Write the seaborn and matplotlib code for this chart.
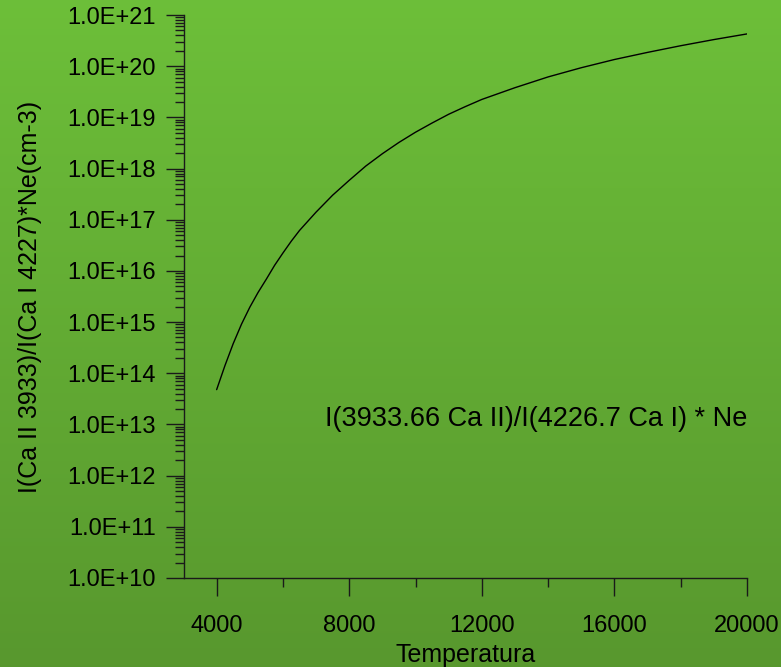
import numpy as np
import pandas as pd
import matplotlib
matplotlib.use("Agg")
import matplotlib.pyplot as plt
import matplotlib.ticker as mticker
from matplotlib.colors import LinearSegmentedColormap
import seaborn as sns

# ---- data ----
temperatura = [4000, 4250, 4500, 4750, 5000, 5250, 5500, 5750, 6000, 6250, 6500,
               6750, 7000, 7500, 8000, 8500, 9000, 9500, 10000, 10500, 11000,
               11500, 12000, 13000, 14000, 15000, 16000, 17000, 18000, 19000, 20000]
razon_ne = [4.79e13, 1.41e14, 3.80e14, 9.12e14, 1.95e15, 3.80e15, 6.92e15,
            1.29e16, 2.24e16, 3.80e16, 6.17e16, 9.33e16, 1.41e17, 3.02e17,
            5.89e17, 1.12e18, 1.95e18, 3.24e18, 5.13e18, 7.76e18, 1.15e19,
            1.62e19, 2.24e19, 3.80e19, 6.17e19, 9.33e19, 1.35e20, 1.86e20,
            2.51e20, 3.31e20, 4.27e20]
x_major_ticks = [4000, 8000, 12000, 16000, 20000]
x_minor_ticks = [6000, 10000, 14000, 18000]
y_major_ticks = [1e10, 1e11, 1e12, 1e13, 1e14, 1e15, 1e16, 1e17, 1e18, 1e19, 1e20, 1e21]

df = pd.DataFrame({"Temperatura": temperatura, "ratio": razon_ne})

sns.set_style("ticks")
plt.rcParams["font.family"] = ["Liberation Sans", "DejaVu Sans"]

W, H = 781, 667
fig = plt.figure(figsize=(W / 100, H / 100), dpi=100)

# green vertical gradient background
bg = fig.add_axes([0, 0, 1, 1], zorder=-10)
cmap = LinearSegmentedColormap.from_list("g", [(0.427, 0.749, 0.224), (0.345, 0.596, 0.180)])
grad = np.linspace(0, 1, 256).reshape(-1, 1)
bg.imshow(grad, aspect="auto", cmap=cmap, extent=[0, 1, 0, 1], origin="upper")
bg.axis("off")

left, right = 183.5 / W, 747 / W
top, bottom = 1 - 15 / H, 1 - 578 / H
ax = fig.add_axes([left, bottom, right - left, top - bottom])
ax.patch.set_alpha(0)

sns.lineplot(data=df, x="Temperatura", y="ratio", ax=ax, color="black", linewidth=1.0)
ax.set_yscale("log")
ax.set_xlim(3000, 20000)
ax.set_ylim(1e10, 1e21)

ax.set_xticks(x_major_ticks)
ax.set_xticks(x_minor_ticks, minor=True)
ax.set_yticks(y_major_ticks)
ax.yaxis.set_minor_locator(mticker.LogLocator(base=10, subs=np.arange(2, 10), numticks=200))
ax.yaxis.set_minor_formatter(mticker.NullFormatter())
ax.yaxis.set_major_formatter(mticker.FuncFormatter(
    lambda v, p: "1.0E+%d" % int(round(np.log10(v)))))
ax.xaxis.set_major_formatter(mticker.FuncFormatter(lambda v, p: "%d" % v))

for s in ["top", "right"]:
    ax.spines[s].set_visible(False)
for s in ["left", "bottom"]:
    ax.spines[s].set_color("#1a1a1a")
    ax.spines[s].set_linewidth(1.0)

ax.tick_params(axis="y", which="major", direction="out", length=13, width=1.0,
               color="#1a1a1a", labelsize=17, pad=7, labelcolor="black")
ax.tick_params(axis="y", which="minor", direction="out", length=6.5, width=1.0,
               color="#1a1a1a")
ax.tick_params(axis="x", which="major", direction="out", length=13, width=1.0,
               color="#1a1a1a", labelsize=17, pad=14, labelcolor="black")
ax.tick_params(axis="x", which="minor", direction="out", length=6.5, width=1.0,
               color="#1a1a1a")

ax.set_xlabel("Temperatura", fontsize=18, labelpad=4, color="black")
ax.set_ylabel("I(Ca II 3933)/I(Ca I 4227)*Ne(cm-3)", fontsize=18, labelpad=18, color="black")

ax.text(20000, 1.3e13, "I(3933.66 Ca II)/I(4226.7 Ca I) * Ne", ha="right", va="center",
        fontsize=19.5, color="black")

fig.savefig("out.png", dpi=100)
